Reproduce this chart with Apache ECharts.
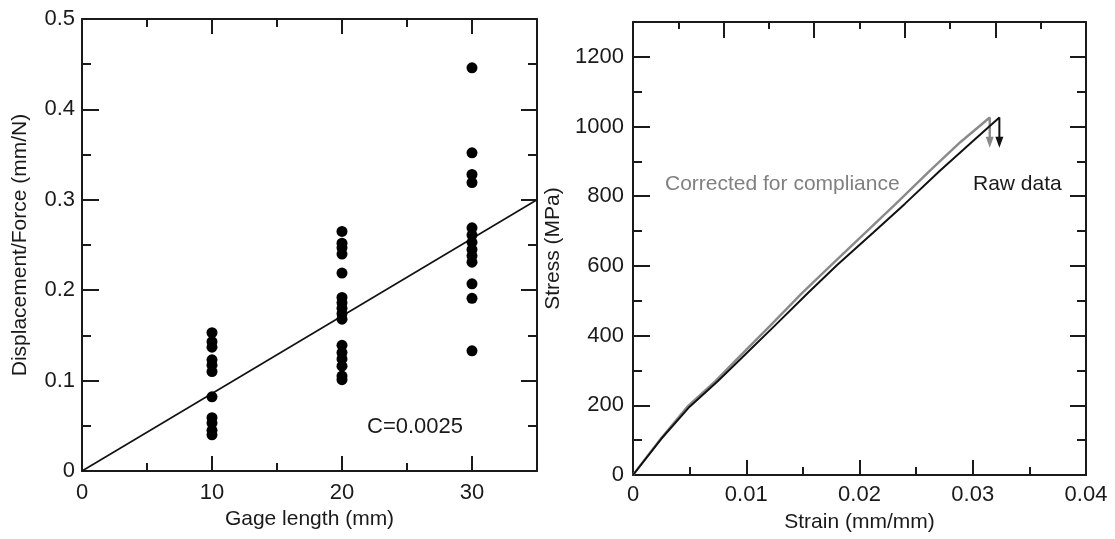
<!DOCTYPE html>
<html>
<head>
<meta charset="utf-8">
<script src="https://cdn.jsdelivr.net/npm/echarts@6/dist/echarts.min.js"></script>
<style>
html,body{margin:0;padding:0;background:#fff;}
#c{width:1115px;height:539px;}
</style>
</head>
<body>
<div id="c"></div>
<script>
// ---- Left panel data ----
const gage10 = [0.153, 0.143, 0.137, 0.123, 0.117, 0.110, 0.082, 0.059, 0.053, 0.045, 0.040];
const gage20 = [0.265, 0.252, 0.247, 0.240, 0.219, 0.192, 0.186, 0.180, 0.174, 0.168, 0.139, 0.131, 0.124, 0.116, 0.105, 0.101];
const gage30 = [0.446, 0.352, 0.328, 0.319, 0.269, 0.261, 0.253, 0.245, 0.238, 0.231, 0.207, 0.191, 0.133];
const fitX = [0, 35];
const fitY = [0, 0.3];
const leftXTicks = [0, 10, 20, 30];
const leftYTicks = [0, 0.1, 0.2, 0.3, 0.4, 0.5];

// ---- Right panel data ----
const rawStrain  = [0, 0.0025, 0.005, 0.0075, 0.0095, 0.0125, 0.0154, 0.018, 0.0212, 0.024, 0.0271, 0.0299, 0.03235];
const rawStress  = [0, 104, 196, 270, 333, 428, 521, 602, 695, 778, 873, 955, 1026];
const corrStrain = [0, 0.00245, 0.0048, 0.0073, 0.0092, 0.0121, 0.0149, 0.0175, 0.0205, 0.0232, 0.0262, 0.0289, 0.0315];
const corrStress = [0, 104, 196, 270, 333, 428, 521, 602, 695, 778, 873, 955, 1026];
const rawDropStress = 955;
const corrDropStress = 955;
const rightXTicks = [0, 0.01, 0.02, 0.03, 0.04];
const rightYTicks = [0, 200, 400, 600, 800, 1000, 1200];

const FONT = 'Liberation Sans';
const INK = '#1a1a1a';
const labelStyle = {fontFamily: FONT, fontSize: 22, color: INK};
const nameStyle = {fontFamily: FONT, fontSize: 21, color: INK};

function axis(kind, grid, pos, min, max, interval, tickLen, opts) {
  opts = opts || {};
  const a = {
    type: 'value', gridIndex: grid, position: pos, min: min, max: max, interval: interval,
    splitLine: {show: false},
    axisLine: {show: !!opts.line, onZero: false, lineStyle: {color: INK, width: 2}},
    axisTick: {show: true, inside: true, length: tickLen, lineStyle: {color: INK, width: 2}},
    axisLabel: {show: !!opts.label, margin: opts.margin || 8, showMaxLabel: opts.showMax !== false,
                formatter: function (v) { return String(v); }, ...labelStyle},
  };
  if (opts.name) {
    a.name = opts.name;
    a.nameLocation = 'middle';
    a.nameGap = opts.nameGap;
    a.nameTextStyle = {...nameStyle};
  }
  return a;
}

const xAxes = [
  // left grid
  axis('x', 0, 'bottom', 0, 35, 10, 15, {line: true, label: true, margin: 11, showMax: false, name: 'Gage length (mm)', nameGap: 38}),
  axis('x', 0, 'bottom', 0, 35, 5, 8, {}),
  axis('x', 0, 'top', 0, 35, 10, 15, {line: true}),
  axis('x', 0, 'top', 0, 35, 5, 8, {}),
  // right grid
  axis('x', 1, 'bottom', 0, 0.04, 0.01, 15, {line: true, label: true, margin: 9, name: 'Strain (mm/mm)', nameGap: 37}),
  axis('x', 1, 'bottom', 0, 0.04, 0.005, 8, {}),
  axis('x', 1, 'top', 0, 0.04, 0.008, 16, {line: true}),
  axis('x', 1, 'top', 0, 0.04, 0.004, 7, {}),
];
const yAxes = [
  axis('y', 0, 'left', 0, 0.5, 0.1, 17, {line: true, label: true, margin: 7, name: 'Displacement/Force (mm/N)', nameGap: 51}),
  axis('y', 0, 'left', 0, 0.5, 0.05, 9, {}),
  axis('y', 0, 'right', 0, 0.5, 0.1, 16, {line: true}),
  axis('y', 0, 'right', 0, 0.5, 0.05, 9, {}),
  axis('y', 1, 'left', 0, 1300, 200, 17, {line: true, label: true, margin: 9, showMax: false, name: 'Stress (MPa)', nameGap: 69}),
  axis('y', 1, 'left', 0, 1300, 100, 9, {}),
  axis('y', 1, 'right', 0, 1300, 200, 16, {line: true}),
  axis('y', 1, 'right', 0, 1300, 100, 9, {}),
];

function pairs(xs, ys) { return xs.map((x, i) => [x, ys[i]]); }
function col(x, ys) { return ys.map(y => [x, y]); }

const rawData = pairs(rawStrain, rawStress);
rawData.push([rawStrain[rawStrain.length - 1], rawDropStress]);
const corrData = pairs(corrStrain, corrStress);
corrData.push([corrStrain[corrStrain.length - 1], corrDropStress]);

const chart = echarts.init(document.getElementById('c'), null, {renderer: 'canvas'});
chart.setOption({
  animation: false,
  backgroundColor: '#fff',
  grid: [
    {left: 82, top: 19, width: 455, height: 452},
    {left: 633, top: 22, width: 453, height: 453},
  ],
  xAxis: xAxes,
  yAxis: yAxes,
  series: [
    {type: 'line', xAxisIndex: 0, yAxisIndex: 0, data: pairs(fitX, fitY), symbol: 'none',
     lineStyle: {color: '#111', width: 1.6}, z: 2},
    {type: 'scatter', xAxisIndex: 0, yAxisIndex: 0,
     data: col(10, gage10).concat(col(20, gage20), col(30, gage30)),
     symbol: 'circle', symbolSize: 11, itemStyle: {color: '#000', opacity: 1}, z: 3},
    {type: 'line', xAxisIndex: 4, yAxisIndex: 4, data: corrData, symbol: 'none',
     lineStyle: {color: '#8a8a8a', width: 2.4}, z: 2},
    {type: 'line', xAxisIndex: 4, yAxisIndex: 4, data: rawData, symbol: 'none',
     lineStyle: {color: '#111', width: 2}, z: 3},
    {type: 'scatter', xAxisIndex: 4, yAxisIndex: 4,
     data: [[corrStrain[corrStrain.length - 1], corrDropStress]],
     symbol: 'triangle', symbolRotate: 180, symbolSize: [8, 11], itemStyle: {color: '#8a8a8a', opacity: 1}, z: 4},
    {type: 'scatter', xAxisIndex: 4, yAxisIndex: 4,
     data: [[rawStrain[rawStrain.length - 1], rawDropStress]],
     symbol: 'triangle', symbolRotate: 180, symbolSize: [8, 11], itemStyle: {color: '#111', opacity: 1}, z: 4},
  ],
  graphic: [
    {type: 'text', left: 367, top: 416, style: {text: 'C=0.0025', font: '22px "Liberation Sans"', fill: INK}},
    {type: 'text', left: 665, top: 174, style: {text: 'Corrected for compliance', font: '21px "Liberation Sans"', fill: '#808080'}},
    {type: 'text', left: 973, top: 174, style: {text: 'Raw data', font: '21px "Liberation Sans"', fill: INK}},
  ],
});
</script>
</body>
</html>
